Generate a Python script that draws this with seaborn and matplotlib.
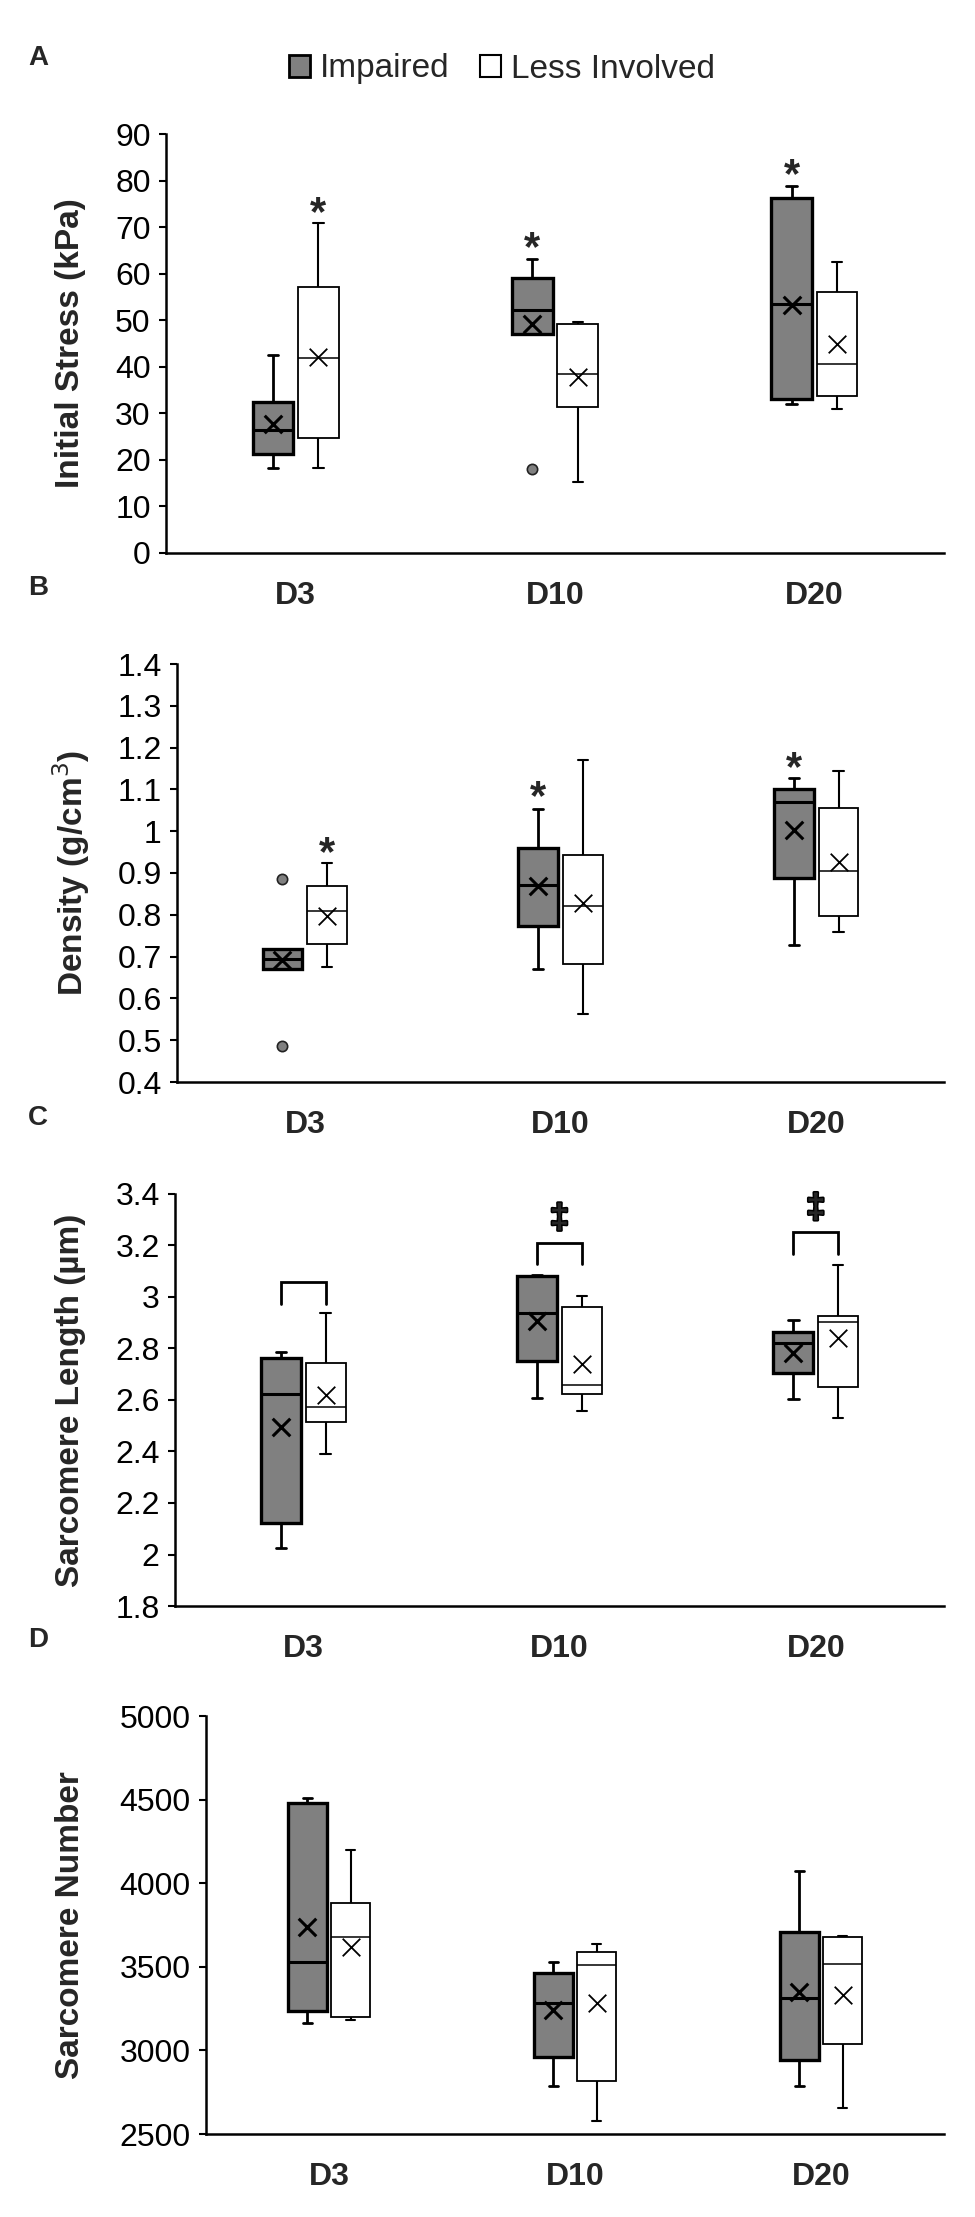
import pandas as pd
import matplotlib.pyplot as plt
import matplotlib.patheffects as pe
import seaborn as sns
from matplotlib.patches import Patch
from matplotlib.ticker import FuncFormatter, MultipleLocator

days = ["D3", "D10", "D20"]
sides = ["Impaired", "Less Involved"]

# five-number summaries per day: (min, q1, median, q3, max)
stress_imp = [(18.2, 21.3, 26.5, 32.5, 42.6), (47.1, 47.1, 52.1, 59.0, 63.1), (32.0, 33.1, 53.5, 76.3, 78.8)]
stress_less = [(18.2, 24.6, 41.8, 57.2, 70.9), (15.3, 31.4, 38.5, 49.2, 49.6), (31.0, 33.7, 40.5, 56.1, 62.4)]
stress_imp_mean = [27.7, 49.2, 53.2]
stress_less_mean = [42.2, 37.9, 44.9]
stress_outliers = [(0, 1, 18.0)]                 # (side, day, value)
stress_stars = [(1, 0, 74.9), (0, 1, 67.4), (0, 2, 83.1)]

density_imp = [(0.670, 0.670, 0.694, 0.718, 0.718), (0.670, 0.774, 0.871, 0.960, 1.053), (0.728, 0.888, 1.070, 1.102, 1.128)]
density_less = [(0.674, 0.730, 0.809, 0.868, 0.924), (0.563, 0.683, 0.820, 0.944, 1.171), (0.760, 0.796, 0.905, 1.055, 1.145)]
density_imp_mean = [0.693, 0.870, 1.002]
density_less_mean = [0.798, 0.828, 0.927]
density_outliers = [(0, 0, 0.885), (0, 0, 0.487)]
density_stars = [(1, 0, 0.969), (0, 1, 1.102), (0, 2, 1.171)]

length_imp = [(2.027, 2.121, 2.622, 2.764, 2.786), (2.609, 2.753, 2.938, 3.081, 3.087), (2.605, 2.704, 2.820, 2.864, 2.909)]
length_less = [(2.390, 2.516, 2.572, 2.743, 2.939), (2.559, 2.625, 2.658, 2.962, 3.005), (2.530, 2.649, 2.901, 2.927, 3.123)]
length_imp_mean = [2.497, 2.906, 2.783]
length_less_mean = [2.618, 2.741, 2.839]
bracket_top = [3.058, 3.210, 3.252]
bracket_bottom = [2.971, 3.127, 3.166]
bracket_marks = ["", "\u2021", "\u2021"]
bracket_mark_y = [3.13, 3.305, 3.345]

number_imp = [(3161, 3236, 3528, 4477, 4507), (2788, 2963, 3285, 3460, 3528), (2788, 2945, 3311, 3711, 4070)]
number_less = [(3180, 3199, 3677, 3883, 4197), (2575, 2818, 3509, 3591, 3636), (2657, 3038, 3516, 3677, 3685)]
number_imp_mean = [3741, 3244, 3348]
number_less_mean = [3621, 3285, 3330]

colors = {"Impaired": "#808080", "Less Involved": "white"}

sns.set_theme(style="white")
plt.rcParams["font.family"] = ["Liberation Sans", "DejaVu Sans"]

W, H = 975, 2217
fig = plt.figure(figsize=(W / 100, H / 100), dpi=100)


def long_table(imp, less):
    rows = []
    for side, boxes in zip(sides, [imp, less]):
        for day, five in zip(days, boxes):
            for v in five:
                rows.append({"day": day, "side": side, "value": v})
    return pd.DataFrame(rows)


def fmt(v, pos):
    return f"{round(v, 3):g}"


def panel(letter, box_px, imp, less, imp_mean, less_mean, ylim, step, ylabel,
          outliers=(), stars=()):
    left, top, bottom = box_px
    ax = fig.add_axes([left / W, 1 - bottom / H, (944 - left) / W, (bottom - top) / H])
    df = long_table(imp, less)
    sns.boxplot(data=df, x="day", y="value", hue="side", order=days, hue_order=sides,
                palette=colors, saturation=1, whis=(0, 100), width=0.35, gap=0.11,
                linecolor="black", linewidth=1.2, fliersize=0, legend=False,
                capwidths=0.04, ax=ax)

    styles = [dict(box=2.4, med=2.2, wh=2.0), dict(box=1.3, med=1.1, wh=1.5)]
    centers = []
    for cont, st in zip(ax.containers, styles):
        for b in cont.boxes:
            b.set_linewidth(st["box"])
        for m in cont.medians:
            m.set_linewidth(st["med"])
        for w in list(cont.whiskers) + list(cont.caps):
            w.set_linewidth(st["wh"])
        xs = sorted((b.get_path().get_extents().x0 + b.get_path().get_extents().x1) / 2
                    for b in cont.boxes)
        centers.append(xs)

    ax.scatter(centers[0], imp_mean, marker="x", s=160, color="black", linewidths=2.2, zorder=6)
    ax.scatter(centers[1], less_mean, marker="x", s=160, color="black", linewidths=1.3, zorder=6)

    for s, d, v in outliers:
        ax.scatter(centers[s][d], v, s=55, color="#808080", edgecolor="#222222",
                   linewidths=1.2, zorder=6)
    for s, d, v in stars:
        ax.annotate("*", xy=(centers[s][d], v), xytext=(0, -15), textcoords="offset points",
                    ha="center", va="baseline", fontsize=30, fontweight="bold")

    ax.set_xlim(-0.5, 2.5)
    ax.set_ylim(*ylim)
    ax.yaxis.set_major_locator(MultipleLocator(step))
    ax.yaxis.set_major_formatter(FuncFormatter(fmt))
    ax.set_xlabel("")
    ax.set_ylabel("")
    for side in ["top", "right"]:
        ax.spines[side].set_visible(False)
    for side in ["left", "bottom"]:
        ax.spines[side].set_linewidth(1.8)
        ax.spines[side].set_color("black")
    ax.tick_params(axis="y", left=True, length=5, width=1.5, pad=6, labelsize=23, colors="black")
    ax.tick_params(axis="x", bottom=False, length=0, pad=20, labelsize=23)
    for lab in ax.get_xticklabels():
        lab.set_fontweight("bold")

    fig.text(71 / W, 1 - (top + bottom) / 2 / H, ylabel, rotation=90, ha="center", va="center",
             fontsize=24, fontweight="bold")
    fig.text(28 / W, 1 - (top - 76) / H, letter, ha="left", va="center",
             fontsize=20, fontweight="bold")
    return ax, centers


panel("A", (166, 134, 553), stress_imp, stress_less, stress_imp_mean, stress_less_mean,
      (0, 90), 10, "Initial Stress (kPa)", stress_outliers, stress_stars)

panel("B", (177, 664, 1082), density_imp, density_less, density_imp_mean, density_less_mean,
      (0.4, 1.4), 0.1, "Density (g/cm$^3$)", density_outliers, density_stars)

axC, cC = panel("C", (175, 1194, 1606), length_imp, length_less, length_imp_mean, length_less_mean,
                (1.8, 3.4), 0.2, "Sarcomere Length (\u00b5m)")
for d in range(len(days)):
    x0, x1 = cC[0][d], cC[1][d]
    axC.plot([x0, x0, x1, x1], [bracket_bottom[d], bracket_top[d], bracket_top[d], bracket_bottom[d]],
             color="black", linewidth=2, solid_joinstyle="miter")
    if bracket_marks[d]:
        axC.text((x0 + x1) / 2, bracket_mark_y[d], bracket_marks[d], ha="center", va="center",
                 fontsize=25, fontweight="bold",
                 path_effects=[pe.withStroke(linewidth=2.2, foreground="black")])

panel("D", (206, 1716, 2134), number_imp, number_less, number_imp_mean, number_less_mean,
      (2500, 5000), 500, "Sarcomere Number")

handles = [Patch(facecolor="#808080", edgecolor="black", linewidth=2),
           Patch(facecolor="white", edgecolor="black", linewidth=1.5)]
fig.legend(handles, sides, loc="center", bbox_to_anchor=(502 / W, 1 - 69 / H), ncol=2,
           frameon=False, fontsize=24, handlelength=0.65, handleheight=0.65,
           handletextpad=0.3, columnspacing=0.9)

fig.savefig("out.png", dpi=100)
